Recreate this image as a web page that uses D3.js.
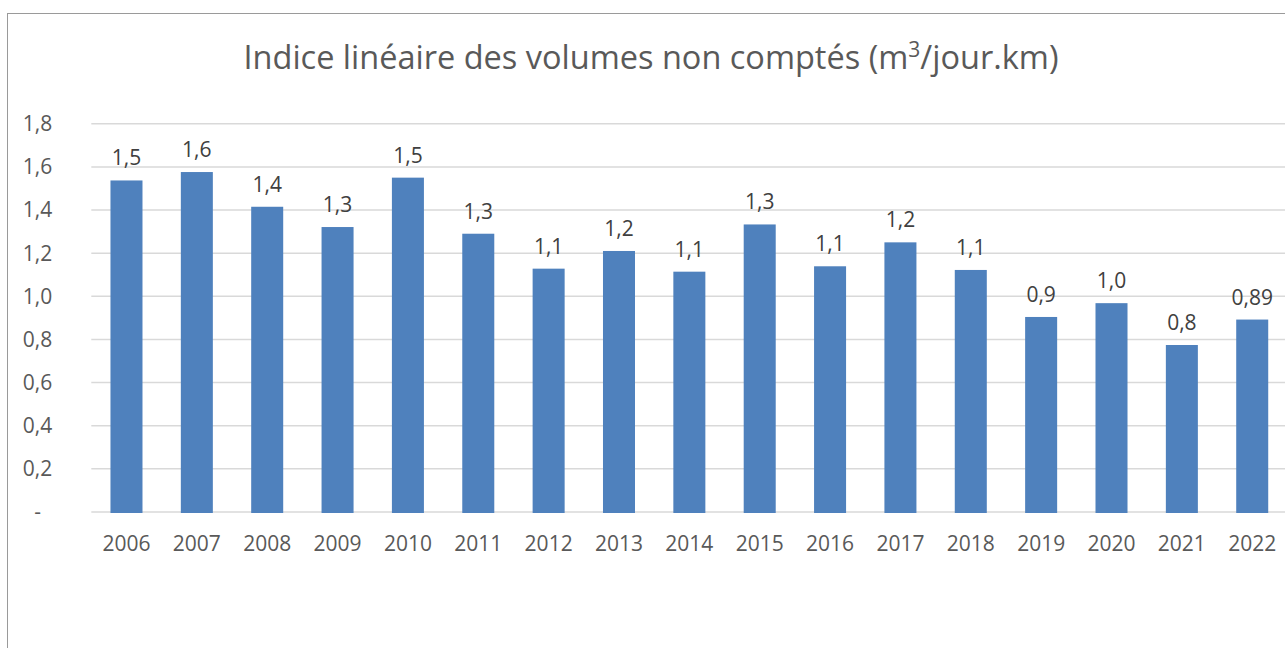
<!DOCTYPE html>
<html lang="fr">
<head>
<meta charset="utf-8">
<title>Indice linéaire des volumes non comptés</title>
<script src="https://cdn.jsdelivr.net/npm/d3@7"></script>
<style>
  html, body { margin: 0; padding: 0; background: #fff; }
  svg { display: block; }
  text { font-family: "Open Sans", "Noto Sans", sans-serif; fill: #595959; }
</style>
</head>
<body>
<svg id="chart" width="1285" height="648"></svg>
<script>
// Années et indice linéaire des volumes non comptés (m³/jour.km)
const years = ["2006", "2007", "2008", "2009", "2010", "2011", "2012", "2013", "2014",
               "2015", "2016", "2017", "2018", "2019", "2020", "2021", "2022"];
const values = [1.535, 1.574, 1.413, 1.319, 1.548, 1.288, 1.126, 1.208, 1.112,
                1.331, 1.137, 1.248, 1.120, 0.902, 0.966, 0.772, 0.89];
// Nombre de décimales affichées dans chaque étiquette de valeur
const labelDecimals = [1, 1, 1, 1, 1, 1, 1, 1, 1, 1, 1, 1, 1, 1, 1, 1, 2];
const yTicks = [0, 0.2, 0.4, 0.6, 0.8, 1.0, 1.2, 1.4, 1.6, 1.8];

const plot = { left: 91.3, right: 1287.4, top: 123.3, bottom: 511.5 };

const svg = d3.select("#chart");

// Cadre du graphique
svg.append("rect")
  .attr("x", 7.5).attr("y", 13.5)
  .attr("width", 1400).attr("height", 1000)
  .attr("fill", "none").attr("stroke", "#9a9a9a").attr("stroke-width", 1);

const x = d3.scaleBand()
  .domain(years)
  .range([plot.left, plot.right])
  .paddingInner(0.545)
  .paddingOuter(0.2725);

const y = d3.scaleLinear()
  .domain([0, 1.8])
  .range([plot.bottom, plot.top]);

const fmtTick = v => v === 0 ? "-" : d3.format(".1f")(v).replace(".", ",");

// Quadrillage horizontal
const grid = svg.append("g")
  .attr("transform", `translate(${plot.left},0)`)
  .call(d3.axisLeft(y).tickValues(yTicks).tickSize(-(plot.right - plot.left)).tickFormat(""));
grid.select(".domain").remove();
grid.selectAll(".tick line").attr("stroke", "#d9d9d9").attr("stroke-width", 1.5);

// Axe vertical (étiquettes seulement)
const yAxis = svg.append("g")
  .attr("transform", `translate(37.5,0)`)
  .call(d3.axisLeft(y).tickValues(yTicks).tickSize(0).tickPadding(0).tickFormat(fmtTick));
yAxis.select(".domain").remove();
yAxis.selectAll(".tick text")
  .attr("text-anchor", "middle")
  .attr("x", 0)
  .attr("dy", "0.35em")
  .style("font-size", "21px")
  .style("fill", "#595959");

// Barres
svg.append("g").selectAll("rect")
  .data(years)
  .join("rect")
  .attr("x", d => x(d))
  .attr("width", x.bandwidth())
  .attr("y", (d, i) => y(values[i]))
  .attr("height", (d, i) => y(0) - y(values[i]) + 1.5)
  .attr("fill", "#4f81bd");

// Étiquettes de valeur
svg.append("g").selectAll("text")
  .data(years)
  .join("text")
  .attr("x", d => x(d) + x.bandwidth() / 2)
  .attr("y", (d, i) => y(values[i]) - 15)
  .attr("text-anchor", "middle")
  .style("font-size", "21px")
  .style("fill", "#404040")
  .text((d, i) => values[i].toFixed(labelDecimals[i]).replace(".", ","));

// Axe horizontal (années)
const xAxis = svg.append("g")
  .attr("transform", `translate(0,${plot.bottom})`)
  .call(d3.axisBottom(x).tickSize(0).tickPadding(0));
xAxis.select(".domain").remove();
xAxis.selectAll(".tick text")
  .attr("y", 39)
  .attr("dy", 0)
  .style("font-size", "21px")
  .style("fill", "#595959");

// Titre
const title = svg.append("text")
  .attr("x", 651)
  .attr("y", 69)
  .attr("text-anchor", "middle")
  .style("font-size", "32.5px")
  .style("fill", "#595959");
title.append("tspan").text("Indice linéaire des volumes non comptés (m");
title.append("tspan").attr("dy", -12).style("font-size", "21px").text("3");
title.append("tspan").attr("dy", 12).text("/jour.km)");
</script>
</body>
</html>
